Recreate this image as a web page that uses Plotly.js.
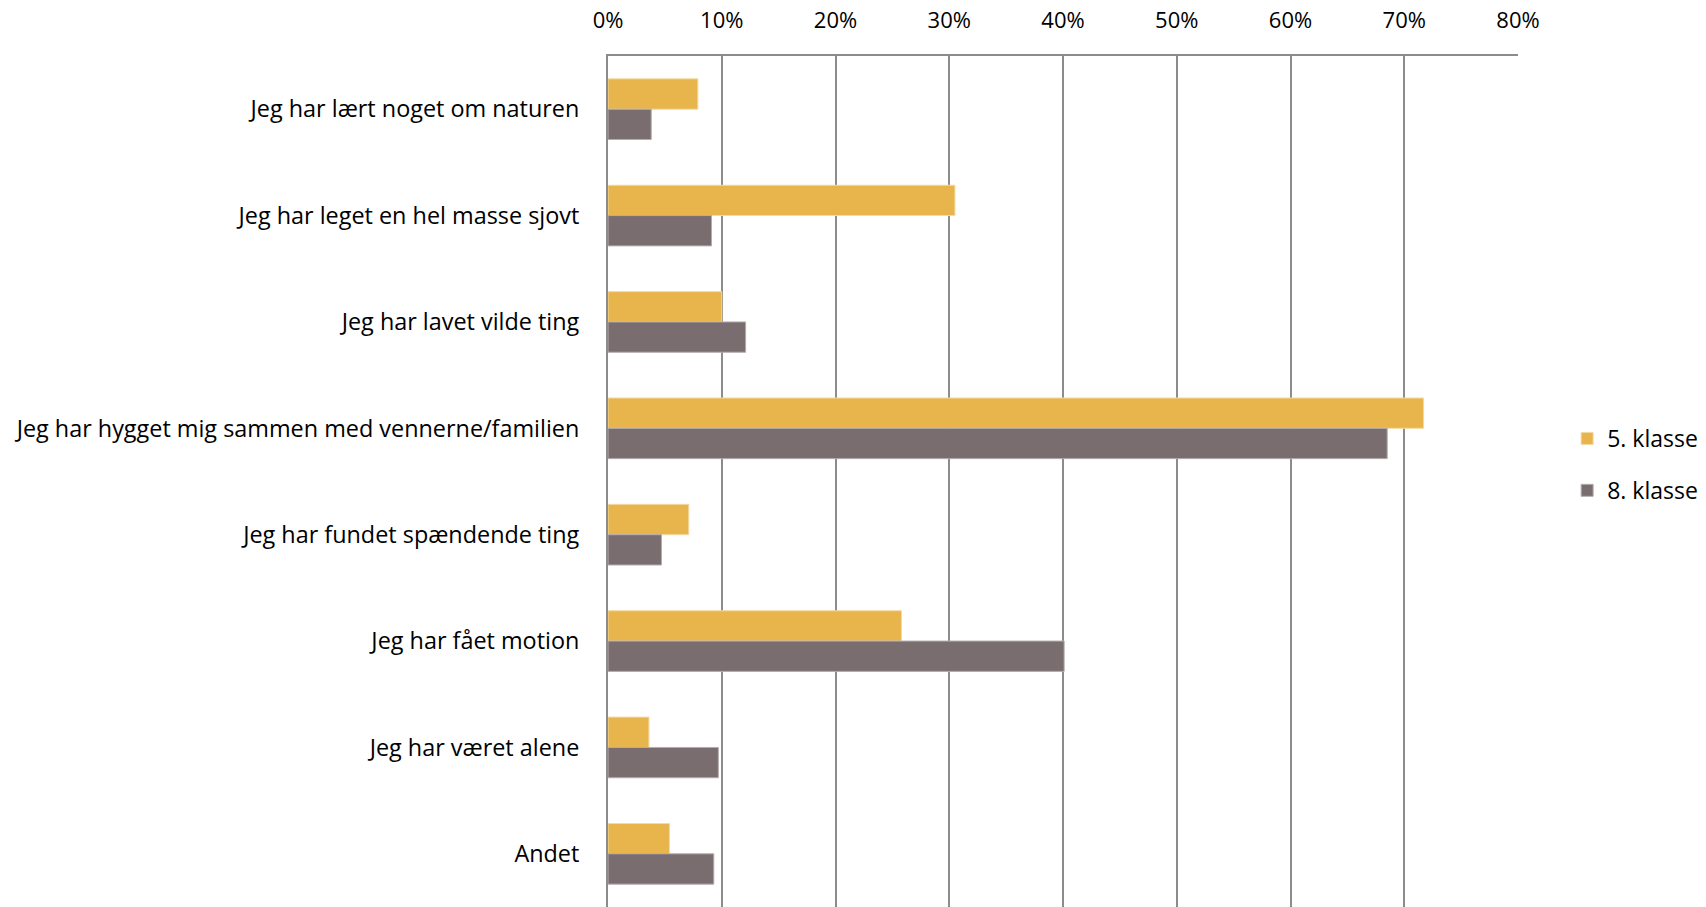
<!DOCTYPE html>
<html><head><meta charset="utf-8">
<script src="https://cdn.plot.ly/plotly-3.0.1.min.js"></script>
<style>html,body{margin:0;padding:0;background:#fff}#c{width:1706px;height:907px}</style>
</head><body><div id="c"></div>
<script>
var categories = [
  "Jeg har lært noget om naturen",
  "Jeg har leget en hel masse sjovt",
  "Jeg har lavet vilde ting",
  "Jeg har hygget mig sammen med vennerne/familien",
  "Jeg har fundet spændende ting",
  "Jeg har fået motion",
  "Jeg har været alene",
  "Andet"
];
var klasse5 = [0.079, 0.305, 0.100, 0.717, 0.071, 0.258, 0.036, 0.054];
var klasse8 = [0.038, 0.091, 0.121, 0.685, 0.047, 0.401, 0.097, 0.093];
var seriesNames = ["5. klasse", "8. klasse"];
var xTickVals = [0, 0.1, 0.2, 0.3, 0.4, 0.5, 0.6, 0.7, 0.8];

var font = "Open Sans, Noto Sans, sans-serif";
var traces = [
  {type:"bar", orientation:"h", name:seriesNames[0], y:categories, x:klasse5,
   marker:{color:"#E8B54C", line:{color:"#F3D9A2", width:1}}, legendgroup:"a"},
  {type:"bar", orientation:"h", name:seriesNames[1], y:categories, x:klasse8,
   marker:{color:"#7A6D70", line:{color:"#B5ACAE", width:1}}, legendgroup:"b"}
];
var layout = {
  width:1706, height:907,
  margin:{l:608, r:188, t:56, b:0, pad:0},
  paper_bgcolor:"#fff", plot_bgcolor:"#fff",
  barmode:"group", bargap:0.43, bargroupgap:0,
  font:{family:font, size:23, color:"#000"},
  showlegend:true,
  legend:{x:1.054, y:0.52, xanchor:"left", yanchor:"middle", font:{size:23, color:"#000"},
          traceorder:"grouped", tracegroupgap:19, itemwidth:30},
  xaxis:{side:"top", range:[0,0.8], tickvals:xTickVals, tickformat:".0%",
         showgrid:true, gridcolor:"#8c8c8c", gridwidth:2,
         showline:true, linecolor:"#8c8c8c", linewidth:2, mirror:false,
         zeroline:false, ticks:"", ticklabelstandoff:17,
         tickfont:{size:22}, fixedrange:true},
  yaxis:{type:"category", autorange:"reversed", showgrid:false,
         showline:true, linecolor:"#8c8c8c", linewidth:2, zeroline:false,
         ticks:"", ticklabelstandoff:22, tickfont:{size:23.4}, fixedrange:true}
};
Plotly.newPlot("c", traces, layout, {displayModeBar:false, staticPlot:true});
</script>
</body></html>
